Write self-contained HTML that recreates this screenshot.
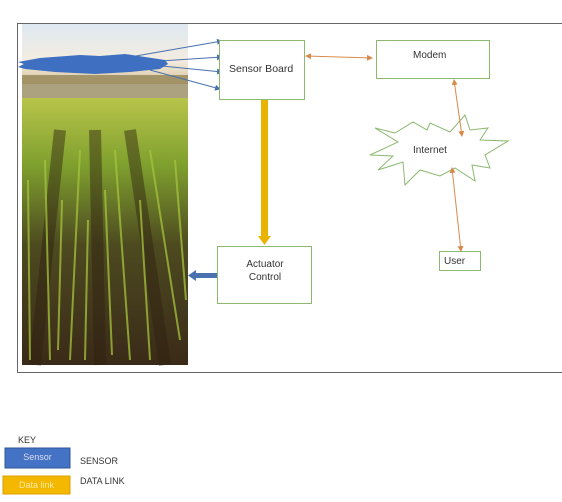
<!DOCTYPE html>
<html><head><style>
body{margin:0;width:562px;height:502px;background:#fff;position:relative;overflow:hidden;font-family:"Liberation Sans",sans-serif;}
.t{position:absolute;font-size:10px;color:#333;}
</style></head><body>
<svg width="562" height="502" style="position:absolute;left:0;top:0">
<defs>
<linearGradient id="sky" x1="0" y1="0" x2="0" y2="1">
<stop offset="0" stop-color="#dfe9f2"/><stop offset="0.6" stop-color="#f3ece0"/><stop offset="1" stop-color="#d8c6a0"/>
</linearGradient>
<linearGradient id="field" x1="0" y1="0" x2="0" y2="1">
<stop offset="0" stop-color="#b8c44a"/><stop offset="0.25" stop-color="#7fa02e"/><stop offset="0.55" stop-color="#4d4a20"/><stop offset="1" stop-color="#3a2a18"/>
</linearGradient>
<marker id="ba" markerWidth="6" markerHeight="6" refX="5" refY="3" orient="auto"><path d="M0,0L6,3L0,6z" fill="#4a72b0"/></marker>
<marker id="oa" markerWidth="6" markerHeight="6" refX="5" refY="3" orient="auto"><path d="M0,0L6,3L0,6z" fill="#d98a4a"/></marker>
<marker id="os" markerWidth="6" markerHeight="6" refX="1" refY="3" orient="auto"><path d="M6,0L0,3L6,6z" fill="#d98a4a"/></marker>
</defs>
<rect x="17.5" y="23.5" width="545" height="349" fill="none" stroke="#666" stroke-width="1"/>
<rect x="22" y="24" width="166" height="60" fill="url(#sky)"/>
<rect x="22" y="75" width="166" height="25" fill="#8a7a4a" opacity="0.7"/>
<rect x="22" y="98" width="166" height="267" fill="url(#field)"/>
<g stroke="#2e2010" stroke-width="12" opacity="0.45">
<line x1="60" y1="130" x2="35" y2="365"/><line x1="95" y1="130" x2="100" y2="365"/><line x1="130" y1="130" x2="165" y2="365"/>
</g>
<g stroke="#a6c43c" stroke-width="2" opacity="0.75">
<line x1="45" y1="160" x2="50" y2="360"/><line x1="80" y1="150" x2="70" y2="360"/><line x1="115" y1="150" x2="130" y2="360"/><line x1="150" y1="150" x2="180" y2="340"/><line x1="28" y1="180" x2="30" y2="360"/>
<line x1="62" y1="200" x2="58" y2="350"/><line x1="105" y1="190" x2="112" y2="355"/><line x1="140" y1="200" x2="150" y2="360"/><line x1="175" y1="160" x2="186" y2="300"/><line x1="88" y1="220" x2="85" y2="360"/>
</g>
<g stroke="#4a72b0" stroke-width="1" fill="none">
<line x1="130" y1="57" x2="222" y2="41" marker-end="url(#ba)"/>
<line x1="160" y1="61" x2="222" y2="57" marker-end="url(#ba)"/>
<line x1="162" y1="66" x2="222" y2="72" marker-end="url(#ba)"/>
<line x1="150" y1="70" x2="220" y2="89" marker-end="url(#ba)"/>
</g>
<path d="M18,62 L40,58 L80,55 L100,56 L125,54 L165,60 L168,64 L160,69 L130,72 L95,74 L55,72 L25,69 L18,67 L24,64 Z" fill="#3f6fc0"/>
<rect x="219.5" y="40.5" width="85" height="59" fill="#fff" stroke="#8cb870"/>
<rect x="376.5" y="40.5" width="113" height="38" fill="#fff" stroke="#8cb870"/>
<rect x="217.5" y="246.5" width="94" height="57" fill="#fff" stroke="#8cb870"/>
<rect x="439.5" y="251.5" width="41" height="19" fill="#fff" stroke="#8cb870"/>
<path d="M395,133 L375,128 L398,142 L370,155 L393,156 L378,170 L403,162 L405,185 L420,170 L440,176 L455,168 L475,181 L472,165 L490,168 L485,155 L508,141 L480,140 L488,128 L470,130 L465,115 L450,132 L430,123 L427,130 L413,122 Z" fill="#fff" stroke="#8cb870"/>
<line x1="306" y1="56" x2="372" y2="58" stroke="#d98a4a" marker-start="url(#os)" marker-end="url(#oa)"/>
<line x1="454" y1="80" x2="462" y2="136" stroke="#d98a4a" marker-start="url(#os)" marker-end="url(#oa)"/>
<line x1="452" y1="168" x2="461" y2="251" stroke="#d98a4a" marker-start="url(#os)" marker-end="url(#oa)"/>
<rect x="261" y="100" width="7" height="136" fill="#e8b400"/>
<path d="M258,236 L271,236 L264.5,245 Z" fill="#e8b400"/>
<rect x="196" y="273" width="21" height="5" fill="#4a72b0"/>
<path d="M196,270 L196,281 L188,275.5 Z" fill="#4a72b0"/>
<rect x="5" y="448" width="65" height="20" fill="#4472c4" stroke="#2f5597"/>
<rect x="3" y="476" width="67" height="18" fill="#f5b800" stroke="#d9a000"/>
</svg>
<div class="t" style="left:229px;top:63px;font-size:10.5px">Sensor Board</div>
<div class="t" style="left:413px;top:50px">Modem</div>
<div class="t" style="left:413px;top:145px">Internet</div>
<div class="t" style="left:444px;top:256px">User</div>
<div class="t" style="left:218px;top:258px;width:94px;text-align:center;line-height:13px">Actuator<br>Control</div>
<div class="t" style="left:18px;top:435px;font-size:9px">KEY</div>
<div class="t" style="left:5px;top:452px;width:65px;text-align:center;font-size:9px;color:#dde">Sensor</div>
<div class="t" style="left:80px;top:456px;font-size:9px">SENSOR</div>
<div class="t" style="left:3px;top:480px;width:67px;text-align:center;font-size:9px;color:#fde9a0">Data link</div>
<div class="t" style="left:80px;top:476px;font-size:9px">DATA LINK</div>
</body></html>
